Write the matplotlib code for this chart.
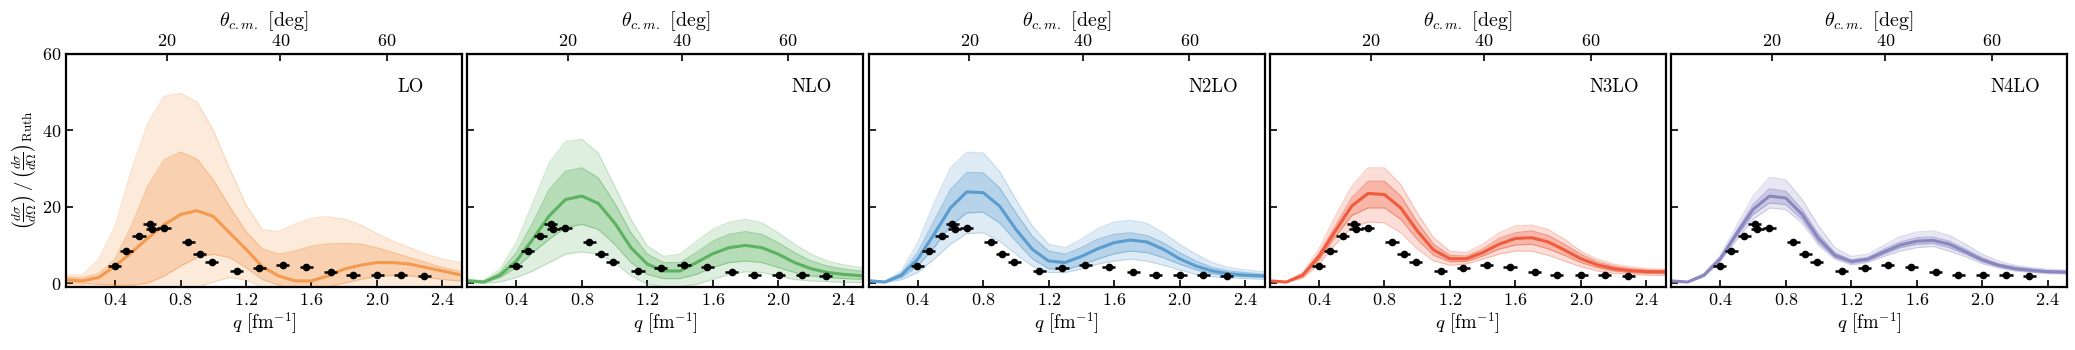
import numpy as np
import matplotlib
matplotlib.use("Agg")
import matplotlib.pyplot as plt

plt.rcParams['font.family'] = 'serif'
plt.rcParams['font.serif'] = ['cmr10']
plt.rcParams['mathtext.fontset'] = 'cm'
plt.rcParams['axes.formatter.use_mathtext'] = True

# momentum transfer grid (fm^-1)
q = [0.1, 0.2, 0.3, 0.4, 0.5, 0.6, 0.7, 0.8, 0.9, 1.0, 1.1, 1.2, 1.3,
     1.4, 1.5, 1.6, 1.7, 1.8, 1.9, 2.0, 2.1, 2.2, 2.3, 2.4, 2.52]

orders = ["LO", "NLO", "N2LO", "N3LO", "N4LO"]
colors = ["#f39a4e", "#5cb25f", "#5b9ccf", "#ef5b3c", "#8a86c0"]

# central values
lo_mid = [0.9, 0.6, 1.5, 4.5, 8.0, 11.8, 15.3, 18.0, 19.0, 17.5, 13.2, 8.9, 4.3,
          1.9, 0.6, 0.6, 1.9, 3.7, 4.7, 5.4, 5.4, 5.0, 4.1, 3.2, 2.1]
nlo_mid = [0.6, 0.3, 2.1, 5.8, 11.5, 17.6, 21.9, 22.8, 20.9, 15.8, 9.3, 5.0, 3.2,
           3.2, 5.4, 7.7, 9.3, 9.9, 9.3, 7.6, 5.4, 3.8, 2.8, 2.3, 1.9]
n2lo_mid = [0.6, 0.3, 2.1, 6.3, 12.8, 19.7, 23.9, 23.7, 20.2, 14.1, 8.9, 5.8, 5.4,
            7.0, 9.0, 10.6, 11.3, 10.8, 8.9, 6.4, 4.5, 3.2, 2.5, 2.1, 1.9]
n3lo_mid = [0.6, 0.3, 2.1, 7.0, 13.7, 20.2, 23.5, 23.2, 19.7, 13.7, 8.7, 6.4, 6.4,
            8.0, 10.2, 11.7, 11.9, 10.8, 8.7, 6.4, 4.8, 3.8, 3.3, 3.0, 3.0]
n4lo_mid = [0.6, 0.3, 2.1, 6.4, 13.0, 19.3, 22.8, 22.3, 18.0, 11.7, 7.3, 5.7, 6.3,
            8.2, 10.0, 11.0, 11.2, 10.2, 8.2, 6.1, 4.7, 3.8, 3.4, 3.0, 2.9]

# inner band (68%)
lo_in_hi = [1.6, 1.4, 2.5, 6.3, 15.0, 25.4, 32.3, 34.3, 32.5, 27.0, 20.0, 13.5, 9.0,
            7.6, 8.4, 9.7, 10.3, 10.4, 10.2, 9.3, 8.0, 6.7, 5.4, 4.1, 3.0]
lo_in_lo = [0.3, 0.0, -0.3, -0.5, -0.5, 0.0, 1.9, 4.5, 6.7, 7.6, 6.7, 4.1, 1.0,
            -0.5, -1.5, -1.5, -1.0, 0.0, 1.0, 1.8, 2.0, 1.9, 1.5, 1.0, 0.5]
nlo_in_hi = [0.9, 0.5, 2.8, 8.0, 15.8, 24.5, 29.3, 30.2, 27.6, 21.0, 13.2, 7.6, 5.4,
             5.4, 8.0, 11.0, 12.8, 13.5, 12.8, 10.6, 8.0, 5.8, 4.5, 3.7, 3.1]
nlo_in_lo = [0.4, 0.1, 1.5, 4.1, 8.0, 11.5, 14.5, 15.4, 14.1, 10.2, 5.4, 2.3, 1.2,
             1.2, 2.3, 4.1, 5.4, 5.8, 5.4, 4.1, 2.8, 1.9, 1.5, 1.2, 1.0]
n2lo_in_hi = [0.8, 0.4, 2.6, 8.0, 16.3, 24.5, 29.0, 28.9, 25.0, 18.4, 12.3, 8.4, 7.6,
              9.3, 11.5, 12.8, 13.2, 12.5, 10.6, 8.0, 5.8, 4.1, 3.2, 2.8, 2.3]
n2lo_in_lo = [0.4, 0.2, 1.5, 4.5, 9.3, 15.0, 18.4, 18.6, 15.8, 11.0, 6.4, 3.8, 3.5,
              4.7, 6.3, 7.7, 8.4, 8.0, 6.7, 5.0, 3.5, 2.5, 1.9, 1.7, 1.5]
n3lo_in_hi = [0.7, 0.35, 2.3, 7.8, 15.0, 22.3, 26.7, 26.7, 22.8, 16.0, 10.2, 7.3, 7.1,
              8.9, 11.7, 13.2, 13.7, 12.5, 10.2, 7.6, 5.6, 4.5, 3.8, 3.5, 3.3]
n3lo_in_lo = [0.5, 0.25, 1.7, 6.1, 12.2, 17.7, 19.7, 19.7, 16.7, 11.5, 7.3, 5.6, 5.7,
              7.1, 8.9, 10.0, 10.2, 9.0, 7.3, 5.4, 4.1, 3.2, 2.8, 2.6, 2.5]
n4lo_in_hi = [0.65, 0.35, 2.3, 6.7, 13.7, 20.6, 24.7, 24.1, 19.3, 12.8, 8.0, 6.1, 6.7,
              8.9, 10.8, 11.9, 12.1, 11.0, 8.9, 6.7, 5.1, 4.3, 3.7, 3.3, 3.1]
n4lo_in_lo = [0.55, 0.25, 1.9, 6.1, 12.2, 18.0, 21.0, 20.6, 16.7, 10.6, 6.7, 5.2, 5.8,
              7.6, 9.3, 10.2, 10.4, 9.3, 7.6, 5.6, 4.3, 3.5, 3.0, 2.8, 2.6]

# outer band (95%)
lo_out_hi = [2.2, 2.1, 6.3, 15.0, 29.7, 41.9, 48.9, 49.7, 47.5, 40.0, 30.0, 20.5, 14.0,
             13.5, 15.5, 17.0, 17.4, 16.8, 15.3, 13.0, 11.0, 9.3, 7.6, 6.3, 5.4]
lo_out_lo = [-0.5, -0.5, -2, -2, -2, -2, -2, -2, -1.0, 0.3, 1.5, 0.8, -1.0,
             -2, -2, -2, -2, -2, -2, -2, -2, -2, -2, -2, -2]
nlo_out_hi = [1.1, 0.7, 3.7, 10.6, 21.0, 31.5, 37.1, 37.7, 34.1, 25.4, 16.7, 9.7, 7.0,
              7.6, 11.0, 14.1, 16.0, 16.7, 15.8, 13.2, 10.2, 7.6, 5.8, 4.8, 4.0]
nlo_out_lo = [0.2, 0.0, 0.3, 1.5, 3.2, 5.4, 7.6, 8.2, 7.6, 5.4, 1.9, -0.3, -0.9,
              -0.9, -0.3, 1.0, 2.3, 3.0, 2.8, 1.9, 1.0, 0.6, 0.4, 0.2, 0.2]
n2lo_out_hi = [1.0, 0.5, 3.2, 10.6, 21.0, 30.2, 34.3, 34.1, 29.3, 21.9, 15.0, 10.2, 9.3,
               11.5, 14.3, 16.0, 16.5, 15.7, 13.2, 10.2, 7.6, 5.4, 4.1, 3.5, 3.0]
n2lo_out_lo = [0.3, 0.1, 0.9, 2.8, 6.3, 10.2, 13.0, 13.2, 11.0, 7.6, 4.5, 2.8, 2.8,
               3.7, 5.0, 5.8, 6.3, 5.8, 4.7, 3.5, 2.3, 1.7, 1.4, 1.2, 1.0]
n3lo_out_hi = [0.8, 0.4, 2.8, 9.0, 17.6, 25.4, 30.2, 30.2, 25.8, 18.4, 11.9, 8.4, 8.0,
               10.2, 13.2, 15.0, 15.2, 14.1, 11.5, 8.4, 6.3, 5.0, 4.3, 3.8, 3.7]
n3lo_out_lo = [0.4, 0.2, 1.3, 5.0, 10.2, 14.5, 16.0, 15.8, 13.2, 9.0, 5.8, 4.7, 5.0,
               6.3, 7.6, 8.4, 8.4, 7.3, 5.8, 4.3, 3.2, 2.6, 2.3, 2.1, 2.0]
n4lo_out_hi = [0.7, 0.4, 2.6, 7.3, 15.0, 22.8, 27.7, 27.1, 21.9, 15.0, 9.3, 7.0, 7.6,
               9.9, 12.2, 13.4, 13.7, 12.5, 10.2, 7.6, 5.8, 4.7, 4.1, 3.7, 3.4]
n4lo_out_lo = [0.5, 0.2, 1.6, 5.7, 11.3, 16.7, 19.7, 19.3, 15.7, 9.9, 6.3, 4.8, 5.4,
               7.0, 8.4, 9.3, 9.6, 8.4, 6.9, 5.1, 4.0, 3.2, 2.8, 2.5, 2.4]

mids = [lo_mid, nlo_mid, n2lo_mid, n3lo_mid, n4lo_mid]
in_hi = [lo_in_hi, nlo_in_hi, n2lo_in_hi, n3lo_in_hi, n4lo_in_hi]
in_lo = [lo_in_lo, nlo_in_lo, n2lo_in_lo, n3lo_in_lo, n4lo_in_lo]
out_hi = [lo_out_hi, nlo_out_hi, n2lo_out_hi, n3lo_out_hi, n4lo_out_hi]
out_lo = [lo_out_lo, nlo_out_lo, n2lo_out_lo, n3lo_out_lo, n4lo_out_lo]

# experimental data
q_exp = [0.397, 0.468, 0.546, 0.611, 0.626, 0.699, 0.846, 0.918, 0.990,
         1.143, 1.282, 1.424, 1.567, 1.717, 1.854, 2.003, 2.146, 2.289]
y_exp = [4.4, 8.3, 12.3, 15.4, 14.3, 14.5, 10.8, 7.7, 5.6,
         3.2, 4.1, 4.7, 4.3, 2.8, 2.1, 2.1, 2.1, 1.8]
q_err = [0.04] * len(q_exp)
y_err = [0.4, 0.4, 0.5, 0.6, 0.5, 0.4, 0.4, 0.3, 0.3,
         0.3, 0.3, 0.3, 0.6, 0.3, 0.3, 0.3, 0.3, 0.3]

two_k = 4.12  # q = 2k sin(theta/2)


def q_to_theta(x):
    s = np.clip(np.asarray(x, dtype=float) / two_k, -1, 1)
    return np.degrees(2 * np.arcsin(s))


def theta_to_q(t):
    return two_k * np.sin(np.radians(np.asarray(t, dtype=float)) / 2)


fig = plt.figure(figsize=(20.75, 3.5), dpi=100)

left0 = 66 / 2075
width = 396 / 2075
step = 401.3 / 2075
bottom = 1 - 287 / 350
height = 233 / 350

for i in range(5):
    ax = fig.add_axes([left0 + i * step, bottom, width, height])
    c = colors[i]
    ax.fill_between(q, out_lo[i], out_hi[i], color=c, alpha=0.2, lw=0)
    ax.fill_between(q, in_lo[i], in_hi[i], color=c, alpha=0.3, lw=0)
    for edge, a in [(out_lo[i], 0.3), (out_hi[i], 0.3), (in_lo[i], 0.5), (in_hi[i], 0.5)]:
        ax.plot(q, edge, color=c, lw=0.8, alpha=a)
    ax.plot(q, mids[i], color=c, lw=2.2)

    ax.errorbar(q_exp, y_exp, xerr=q_err, yerr=y_err, fmt='o', color='black',
                ms=4.5, elinewidth=1.8, capsize=0, zorder=5)

    ax.set_xlim(0.1, 2.52)
    ax.set_ylim(-1, 60)
    ax.set_xticks([0.4, 0.8, 1.2, 1.6, 2.0, 2.4])
    ax.set_yticks([0, 20, 40, 60])
    ax.tick_params(direction='in', length=5, width=1.2, labelsize=13,
                   top=False, right=False)
    if i > 0:
        ax.set_yticklabels([])
    for sp in ax.spines.values():
        sp.set_linewidth(1.6)

    ax.set_xlabel(r'$q$ [fm$^{-1}$]', fontsize=13.5, labelpad=2)
    if i == 0:
        ax.set_ylabel(r'$\left(\frac{d\sigma}{d\Omega}\right)\,/\,\left(\frac{d\sigma}{d\Omega}\right)_{\rm Ruth}$',
                      fontsize=13.5, labelpad=2)

    ax.text(0.87, 0.86, orders[i], transform=ax.transAxes, ha='center',
            va='center', fontsize=13.5)

    sec = ax.secondary_xaxis('top', functions=(q_to_theta, theta_to_q))
    sec.set_xticks([20, 40, 60])
    sec.tick_params(direction='in', length=5, width=1.2, labelsize=13)
    sec.set_xlabel(r'$\theta_{c.m.}$ [deg]', fontsize=14.5, labelpad=5)

fig.savefig("out.png", dpi=100)
